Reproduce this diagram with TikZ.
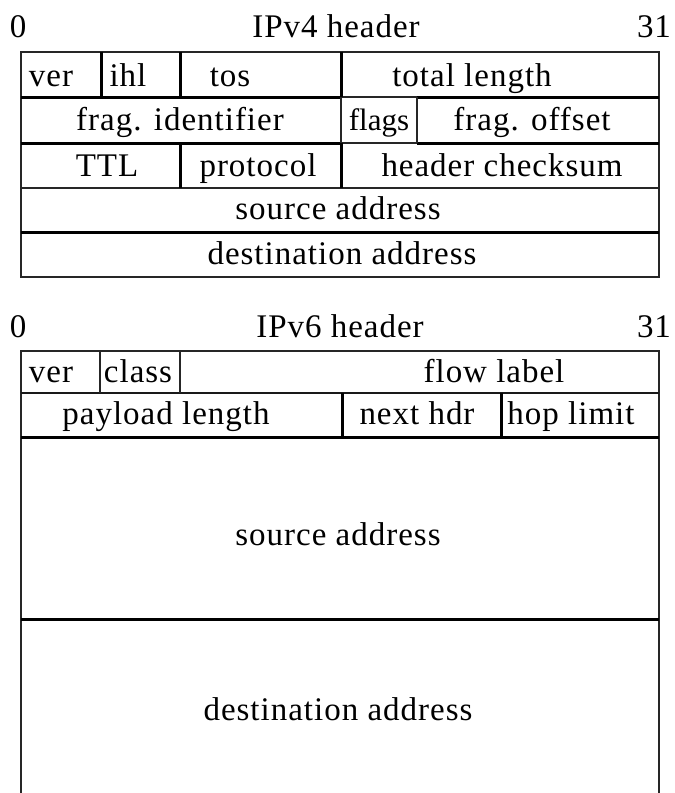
\documentclass[tikz,border=0pt]{standalone}
\usepackage{fontspec}
\setmainfont{Liberation Serif}[LetterSpace=3]
\begin{document}
\begin{tikzpicture}[x=1bp,y=-1bp,
  thin line/.style={line width=1.3bp,draw=black!85},
  thick line/.style={line width=3bp,draw=black},
  mid line/.style={line width=1.8bp,draw=black!90},
  lbl/.style={inner sep=0pt,anchor=base,font=\fontsize{33bp}{35bp}\selectfont}]
\useasboundingbox (0,0) rectangle (675,793);
% ---------- IPv4 ----------
\node[lbl] (v4zero) at (18,38) {0};
\node[lbl] (v4title) at (336,38) {IPv4 header};
\node[lbl] (v4end) at (654,38) {31};
\draw[thin line] (21,52) rectangle (659,277);
\draw[thick line] (21,97) -- (341,97);
\draw[thin line] (341,97) -- (417,97);
\draw[thick line] (417,97) -- (659,97);
\draw[thick line] (21,143) -- (341,143);
\draw[thin line] (341,143) -- (417,143);
\draw[thick line] (417,143) -- (659,143);
\draw[thin line] (21,188) -- (659,188);
\draw[thick line] (21,232) -- (659,232);
\draw[thick line] (101,52) -- (101,97);
\draw[thick line] (180,52) -- (180,97);
\draw[thick line] (341,52) -- (341,97);
\draw[thin line] (341,97) -- (341,143);
\draw[thin line] (417,97) -- (417,143);
\draw[thick line] (180,143) -- (180,188);
\draw[thick line] (341,143) -- (341,188);
\node[lbl] (v4ver) at (51,86) {ver};
\node[lbl] (v4ihl) at (128,86) {ihl};
\node[lbl] (v4tos) at (230,86) {tos};
\node[lbl] (v4len) at (472,86) {total length};
\node[lbl] (v4id) at (180,130) {frag. identifier};
\node[lbl,font=\fontsize{31bp}{33bp}\selectfont\addfontfeature{LetterSpace=0}] (v4flags) at (379,130) {flags};
\node[lbl] (v4off) at (532,130) {frag. offset};
\node[lbl] (v4ttl) at (107,176) {TTL};
\node[lbl] (v4proto) at (258,176) {protocol};
\node[lbl] (v4sum) at (502,176) {header checksum};
\node[lbl] (v4src) at (338,219) {source address};
\node[lbl] (v4dst) at (342,264) {destination address};
% ---------- IPv6 ----------
\node[lbl] (v6zero) at (18,337) {0};
\node[lbl] (v6title) at (340,337) {IPv6 header};
\node[lbl] (v6end) at (654,337) {31};
\draw[thin line] (21,800) -- (21,351) -- (659,351) -- (659,800);
\draw[mid line] (21,393) -- (659,393);
\draw[thick line] (21,437) -- (659,437);
\draw[thick line] (21,619) -- (659,619);
\draw[thin line] (100,351) -- (100,393);
\draw[thin line] (180,351) -- (180,393);
\draw[thick line] (342,393) -- (342,437);
\draw[thick line] (501,393) -- (501,437);
\node[lbl] (v6ver) at (51,382) {ver};
\node[lbl] (v6class) at (138,382) {class};
\node[lbl] (v6flow) at (494,382) {flow label};
\node[lbl] (v6pay) at (166,424) {payload length};
\node[lbl] (v6next) at (417,424) {next hdr};
\node[lbl] (v6hop) at (571,424) {hop limit};
\node[lbl] (v6src) at (338,545) {source address};
\node[lbl] (v6dst) at (338,720) {destination address};
\end{tikzpicture}
\end{document}
